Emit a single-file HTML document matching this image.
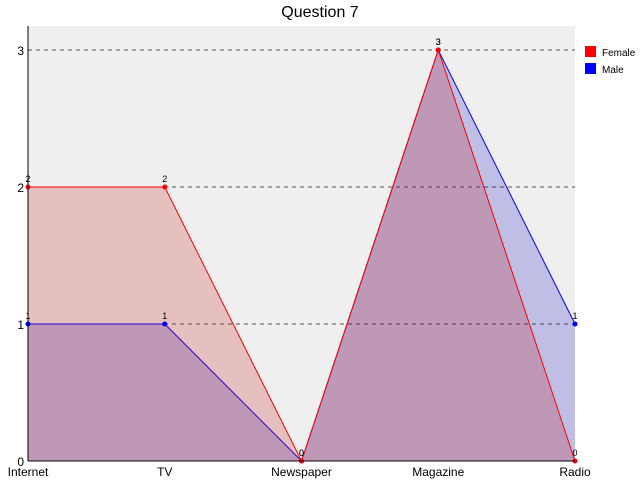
<!DOCTYPE html>
<html><head><meta charset="utf-8"><style>
body{margin:0;background:#fff;}
svg{display:block;font-family:"Liberation Sans","DejaVu Sans",sans-serif;}
</style></head><body>
<svg id="chart" width="640" height="480">
<text x="320" y="17" text-anchor="middle" font-size="16" fill="#000">Question 7</text>
<rect x="28" y="26" width="547" height="435" fill="#efefef"/>
<g id="grid"></g><g id="series"></g><g id="axes"></g>
<g>
<rect x="585" y="46" width="11" height="11" fill="#f00"/>
<text x="602" y="56" font-size="10">Female</text>
<rect x="585" y="63" width="11" height="11" fill="#00f"/>
<text x="602" y="73" font-size="10">Male</text>
</g>
</svg>
<script>
const categories=["Internet","TV","Newspaper","Magazine","Radio"];
const female=[2,2,0,3,0];
const male=[1,1,0,3,1];
const yTicks=[0,1,2,3];
const NS="http://www.w3.org/2000/svg";
const x0=28,x1=575,yBase=461,yTop=50,yMax=3;
function xs(i){return x0+i*(x1-x0)/(categories.length-1);}
function ys(v){return yBase-v*(yBase-yTop)/yMax;}
function mk(tag,attrs,parent){const e=document.createElementNS(NS,tag);for(const k in attrs)e.setAttribute(k,attrs[k]);parent.appendChild(e);return e;}
const grid=document.getElementById('grid'),ser=document.getElementById('series'),ax=document.getElementById('axes');
yTicks.forEach(t=>{
 if(t>0){const l=mk('line',{x1:x0,x2:x1,y1:ys(t),y2:ys(t),stroke:'#555','stroke-dasharray':'4,4','stroke-width':1},grid);
 
 }
 const tx=mk('text',{x:24,y:ys(t)+5,'text-anchor':'end','font-size':12},ax);tx.textContent=t;
 
 
});
function draw(vals,fill,stroke,name){
 let pts=vals.map((v,i)=>xs(i)+','+ys(v)).join(' ');
 const p=mk('polygon',{points:xs(0)+','+yBase+' '+pts+' '+xs(vals.length-1)+','+yBase,fill:fill,'fill-opacity':0.2},ser);
 
 
 const l=mk('polyline',{points:pts,fill:'none',stroke:stroke,'stroke-width':1},ser);
 
 
}
function dots(vals,color,name){
 vals.forEach((v,i)=>{
  const c=mk('circle',{cx:xs(i),cy:ys(v),r:2.5,fill:color},ser);
  
  
  const t=mk('text',{x:xs(i),y:ys(v)-5,'text-anchor':'middle','font-size':9},ser);t.textContent=v;
  
  
 });
}
draw(male,'rgb(0,0,194)','#00f','male');
draw(female,'rgb(194,0,0)','#f00','female');
dots(male,'#00f','male');
dots(female,'#f00','female');
const ya=mk('line',{x1:x0,x2:x0,y1:26,y2:yBase,stroke:'#000'},ax);


const xa=mk('line',{x1:x0,x2:x1,y1:yBase,y2:yBase,stroke:'#000'},ax);


categories.forEach((c,i)=>{
 const t=mk('text',{x:xs(i),y:476,'text-anchor':'middle','font-size':12},ax);t.textContent=c;
 
 
});
</script>
</body></html>
